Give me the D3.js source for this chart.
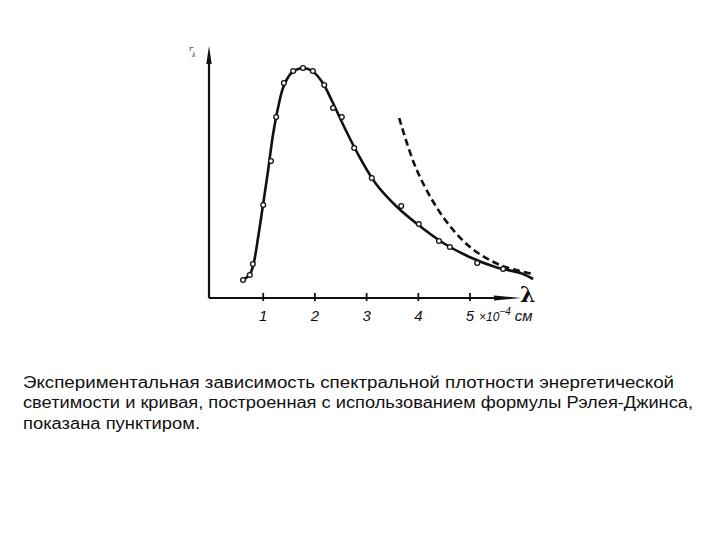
<!doctype html>
<html lang="ru">
<head>
<meta charset="utf-8">
<title>Планк</title>
<script src="https://d3js.org/d3.v7.min.js"></script>
<style>
  body { margin: 0; background: #fff; }
  svg { display: block; }
  .cap { font-family: "Liberation Sans", Arial, sans-serif; font-size: 16px; fill: #111; }
  .tk { font-family: "Liberation Sans", Arial, sans-serif; font-style: italic; font-size: 15px; fill: #111; }
</style>
</head>
<body>
<svg width="720" height="540"></svg>
<script>
// measured points (lambda in 1e-4 cm, r in arbitrary units)
var pointsLambda = [0.62, 0.75, 0.81, 1.01, 1.16, 1.26, 1.41, 1.59, 1.78, 1.97, 2.19, 2.36, 2.53, 2.77, 3.11, 3.68, 4.02, 4.41, 4.62, 5.15, 5.65];
var pointsR      = [0.68, 0.88, 1.32, 3.68, 5.44, 7.2, 8.56, 9.04, 9.16, 9.04, 8.48, 7.56, 7.2, 5.96, 4.76, 3.64, 2.92, 2.24, 2.0, 1.36, 1.12];

// smooth curve through the data
var curveLambda = [0.62, 0.75, 0.82, 0.92, 1.0, 1.1, 1.2, 1.3, 1.4, 1.55, 1.75, 1.95, 2.15, 2.35, 2.6, 2.9, 3.2, 3.6, 4.0, 4.5, 5.0, 5.5, 6.0, 6.23];
var curveR      = [0.68, 0.9, 1.3, 2.5, 3.6, 5.0, 6.5, 7.6, 8.4, 8.95, 9.15, 9.05, 8.6, 7.8, 6.7, 5.5, 4.5, 3.6, 2.9, 2.15, 1.6, 1.2, 0.95, 0.72];

// Rayleigh-Jeans (dashed)
var rjLambda = [3.64, 3.98, 4.49, 5.01, 5.59, 6.23];
var rjR      = [7.16, 5.08, 3.2, 2.0, 1.28, 0.92];

var tickLabels = ["1", "2", "3", "4", "5"];

var captionLines = [
  "Экспериментальная зависимость спектральной плотности энергетической",
  "светимости и кривая, построенная с использованием формулы Рэлея-Джинса,",
  "показана пунктиром."
];

var svg = d3.select("svg");

var x = d3.scaleLinear().domain([0, 6.5]).range([211, 211 + 6.5 * 51.7]);
var y = d3.scaleLinear().domain([0, 10]).range([297, 47]);

// axes
svg.append("line")
  .attr("x1", 209).attr("y1", 298).attr("x2", 209).attr("y2", 58)
  .attr("stroke", "#111").attr("stroke-width", 2.2);
svg.append("path")
  .attr("d", "M209,46 L206.3,64 L211.7,64 Z")
  .attr("fill", "#111");

svg.append("line")
  .attr("x1", 209).attr("y1", 298).attr("x2", 500).attr("y2", 298)
  .attr("stroke", "#111").attr("stroke-width", 2.2);
svg.append("path")
  .attr("d", "M521,298 L494,295.4 L494,300.6 Z")
  .attr("fill", "#111");

var xAxis = d3.axisBottom(x)
  .tickValues([1, 2, 3, 4, 5])
  .tickFormat(function (d, i) { return tickLabels[i]; })
  .tickSize(0);

var gx = svg.append("g")
  .attr("transform", "translate(0,298)")
  .call(xAxis);
gx.select(".domain").remove();
gx.selectAll(".tick line")
  .attr("y1", -5).attr("y2", 3)
  .attr("stroke", "#111").attr("stroke-width", 1.8);
gx.selectAll(".tick text")
  .attr("class", "tk")
  .attr("y", 23).attr("dy", null)
  .attr("font-family", null).attr("font-size", null);
gx.attr("font-family", null).attr("font-size", null);

// unit label
var unit = svg.append("text").attr("class", "tk").attr("x", 479).attr("y", 321);
unit.append("tspan").attr("font-size", 12).text("×10");
unit.append("tspan").attr("dy", -6).attr("font-size", 10).text("−4");
unit.append("tspan").attr("dy", 6).attr("dx", 4).attr("font-size", 15).text("см");

// lambda label
svg.append("text")
  .attr("x", 520).attr("y", 302)
  .attr("font-family", "DejaVu Serif, serif")
  .attr("font-size", 22).attr("font-weight", "bold")
  .attr("fill", "#111")
  .text("λ");

// r_lambda label
var rl = svg.append("text")
  .attr("x", 189).attr("y", 51)
  .attr("font-family", "DejaVu Serif, serif")
  .attr("font-style", "italic")
  .attr("font-size", 8).attr("fill", "#333");
rl.append("tspan").text("r");
rl.append("tspan").attr("dy", 6).attr("dx", -1).attr("font-size", 7).text("λ");

// lines
var line = d3.line()
  .x(function (d) { return x(d[0]); })
  .y(function (d) { return y(d[1]); })
  .curve(d3.curveCatmullRom.alpha(0.5));

svg.append("path")
  .datum(d3.zip(curveLambda, curveR))
  .attr("d", line)
  .attr("fill", "none").attr("stroke", "#111").attr("stroke-width", 2.6);

svg.append("path")
  .datum(d3.zip(rjLambda, rjR))
  .attr("d", line)
  .attr("fill", "none").attr("stroke", "#111").attr("stroke-width", 2.6)
  .attr("stroke-dasharray", "7,4");

svg.append("g")
  .selectAll("circle")
  .data(d3.zip(pointsLambda, pointsR))
  .enter().append("circle")
  .attr("cx", function (d) { return x(d[0]); })
  .attr("cy", function (d) { return y(d[1]); })
  .attr("r", 2.4)
  .attr("fill", "#fff")
  .attr("stroke", "#111").attr("stroke-width", 1.3);

// caption
var capWidths = [651, 670, 177];
svg.selectAll("text.cap")
  .data(captionLines)
  .enter().append("text")
  .attr("class", "cap")
  .attr("x", 23)
  .attr("y", function (d, i) { return 387.5 + i * 20.7; })
  .attr("textLength", function (d, i) { return capWidths[i]; })
  .attr("lengthAdjust", "spacingAndGlyphs")
  .text(function (d) { return d; });
</script>
</body>
</html>
